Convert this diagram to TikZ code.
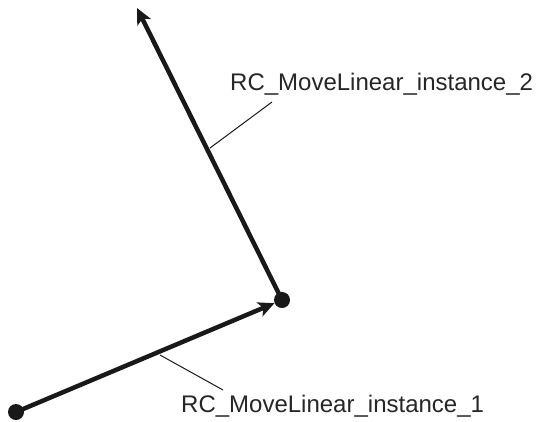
\documentclass[tikz,border=0pt]{standalone}
\usepackage{fontspec}
\setmainfont{Liberation Sans}
\usetikzlibrary{arrows.meta}
\begin{document}
\begin{tikzpicture}[x=1pt,y=-1pt,
  dotnode/.style={circle,fill=black!90,inner sep=0pt,minimum size=16pt},
  pathline/.style={line width=4.5pt,draw=black!90,-{Stealth[length=16pt,width=15pt,inset=4pt]}},
  leader/.style={line width=1pt,draw=black!90},
  lbl/.style={inner sep=0pt,anchor=base west,text=black!85,font=\fontsize{24}{28}\selectfont}]
\useasboundingbox (0,0) rectangle (537,421);
\node[dotnode] (p1) at (16,412) {};
\node[dotnode] (p2) at (282,300) {};
\coordinate (tip) at (137,8);
\draw[pathline] (p1.center) -- (p2);
\draw[pathline] (p2.center) -- (tip);
\node[lbl] (l1) at (181,412) {RC\_MoveLinear\_instance\_1};
\node[lbl] (l2) at (230,90) {RC\_MoveLinear\_instance\_2};
\coordinate (a1) at (160,355);
\coordinate (b1) at (223,390);
\coordinate (a2) at (210,148);
\coordinate (b2) at (272,102);
\draw[leader] (a1) -- (b1);
\draw[leader] (a2) -- (b2);
\end{tikzpicture}
\end{document}
